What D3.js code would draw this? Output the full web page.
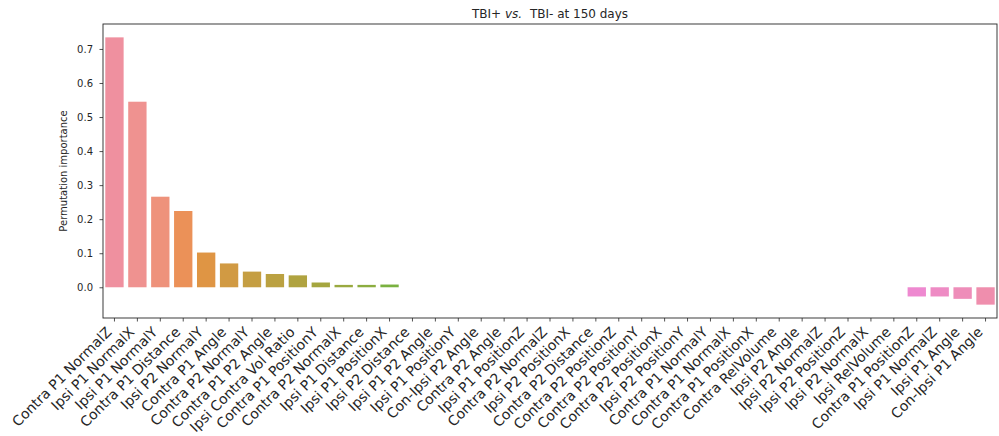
<!DOCTYPE html>
<html>
<head>
<meta charset="utf-8">
<style>
  body { margin: 0; background: #fff; }
  text { font-family: "DejaVu Sans", sans-serif; fill: #262626; }
</style>
</head>
<body>
<svg width="999" height="436"></svg>
<script src="https://d3js.org/d3.v7.min.js"></script>
<script>

var features = [
  "Contra P1 NormalZ", "Ipsi P1 NormalX", "Ipsi P1 NormalY", "Contra P1 Distance",
  "Ipsi P2 NormalY", "Contra P1 Angle", "Contra P2 NormalY", "Contra P1 P2 Angle",
  "Ipsi Contra Vol Ratio", "Contra P1 PositionY", "Contra P2 NormalX", "Ipsi P1 Distance",
  "Ipsi P1 PositionX", "Ipsi P2 Distance", "Ipsi P1 P2 Angle", "Ipsi P1 PositionY",
  "Con-Ipsi P2 Angle", "Contra P2 Angle", "Ipsi P1 PositionZ", "Contra P2 NormalZ",
  "Ipsi P2 PositionX", "Contra P2 Distance", "Contra P2 PositionZ", "Contra P2 PositionY",
  "Contra P2 PositionX", "Ipsi P2 PositionY", "Contra P1 NormalY", "Contra P1 NormalX",
  "Contra P1 PositionX", "Contra RelVolume", "Ipsi P2 Angle", "Ipsi P2 NormalZ",
  "Ipsi P2 PositionZ", "Ipsi P2 NormalX", "Ipsi RelVolume", "Contra P1 PositionZ",
  "Ipsi P1 NormalZ", "Ipsi P1 Angle", "Con-Ipsi P1 Angle"
];

var importance = [
  0.734, 0.545, 0.266, 0.224, 0.102, 0.070, 0.046, 0.039, 0.035, 0.014,
  0.007, 0.007, 0.008, 0, 0, 0, 0, 0, 0, 0,
  0, 0, 0, 0, 0, 0, 0, 0, 0, 0,
  0, 0, 0, 0, 0, -0.027, -0.027, -0.034, -0.051
];

var yTicks = [0.0, 0.1, 0.2, 0.3, 0.4, 0.5, 0.6, 0.7];

// seaborn-style husl palette (old husl maths)
var M = [[3.2406, -1.5372, -0.4986], [-0.9689, 1.8758, 0.0415], [0.0557, -0.2040, 1.0570]];
var refU = 0.19784, refV = 0.46834, kappa = 903.3, epsilon = 0.008856;

function maxChroma(L, H) {
  var hr = H * Math.PI / 180, sinH = Math.sin(hr), cosH = Math.cos(hr);
  var sub1 = Math.pow(L + 16, 3) / 1560896;
  var sub2 = sub1 > epsilon ? sub1 : L / kappa;
  var best = Infinity;
  M.forEach(function(r) {
    var top = (0.99915 * r[0] + 1.05122 * r[1] + 1.14460 * r[2]) * sub2;
    var rb = 0.86330 * r[2] - 0.17266 * r[1];
    var lb = 0.12949 * r[2] - 0.38848 * r[0];
    var bottom = (rb * sinH + lb * cosH) * sub2;
    [0, 1].forEach(function(t) {
      var C = L * (top - 1.05122 * t) / (bottom + 0.17266 * sinH * t);
      if (C > 0 && C < best) best = C;
    });
  });
  return best;
}

function huslToRgb(H, S, L) {
  var C = maxChroma(L, H) / 100 * S;
  var hr = H * Math.PI / 180, U = Math.cos(hr) * C, V = Math.sin(hr) * C;
  var t = (L + 16) / 116;
  var Y = Math.pow(t, 3) > epsilon ? Math.pow(t, 3) : (116 * t - 16) / kappa;
  var vu = U / (13 * L) + refU, vv = V / (13 * L) + refV;
  var X = 0 - (9 * Y * vu) / ((vu - 4) * vv - vu * vv);
  var Z = (9 * Y - 15 * vv * Y - vv * X) / (3 * vv);
  return M.map(function(r) {
    var c = r[0] * X + r[1] * Y + r[2] * Z;
    c = c <= 0.0031308 ? 12.92 * c : 1.055 * Math.pow(c, 1 / 2.4) - 0.055;
    return Math.max(0, Math.min(1, c));
  });
}

var n = features.length;
var colors = d3.range(n).map(function(i) {
  var h = ((i / n + 0.01) % 1) * 359;
  var rgb = huslToRgb(h, 0.9 * 99, 0.7 * 99);
  var hsl = d3.hsl(d3.rgb(rgb[0] * 255, rgb[1] * 255, rgb[2] * 255));
  hsl.s *= 0.85;
  return hsl.formatHex();
});

var svg = d3.select("svg"),
    margin = {top: 24, right: 2, bottom: 118, left: 103},
    width = +svg.attr("width") - margin.left - margin.right,
    height = +svg.attr("height") - margin.top - margin.bottom,
    g = svg.append("g").attr("transform", "translate(" + margin.left + "," + margin.top + ")");

var x = d3.scaleBand()
    .domain(features)
    .range([0, width])
    .paddingInner(0.2)
    .paddingOuter(0.1);

var ext = d3.extent(importance), pad = (ext[1] - ext[0]) * 0.05;
var y = d3.scaleLinear()
    .domain([ext[0] - pad, ext[1] + pad])
    .range([height, 0]);

g.selectAll(".bar")
  .data(importance)
  .enter().append("rect")
    .attr("class", "bar")
    .attr("x", function(d, i) { return x(features[i]); })
    .attr("width", x.bandwidth())
    .attr("y", function(d) { return y(Math.max(0, d)); })
    .attr("height", function(d) { return Math.abs(y(d) - y(0)); })
    .attr("fill", function(d, i) { return colors[i]; });

// x axis with rotated labels
var xAxis = g.append("g")
    .attr("transform", "translate(0," + height + ")")
    .call(d3.axisBottom(x).tickSize(3.5).tickSizeOuter(0));
xAxis.select(".domain").remove();
xAxis.selectAll("line").attr("stroke", "#262626").attr("stroke-width", 0.8);
xAxis.selectAll("text")
    .attr("x", 0).attr("y", 0).attr("dy", null)
    .attr("transform", "translate(-2,15) rotate(-45)")
    .style("text-anchor", "end")
    .style("font-size", "14px")
    .attr("fill", "#262626");

// y axis
var yAxis = g.append("g")
    .call(d3.axisLeft(y).tickValues(yTicks).tickFormat(d3.format(".1f")).tickSize(3.5).tickPadding(6.5));
yAxis.select(".domain").remove();
yAxis.selectAll("line").attr("stroke", "#262626").attr("stroke-width", 0.8);
yAxis.selectAll("text").style("font-size", "10px").attr("fill", "#262626");

// frame
g.append("rect")
    .attr("width", width)
    .attr("height", height)
    .attr("fill", "none")
    .attr("stroke", "#262626")
    .attr("stroke-width", 0.9);

g.append("text")
    .attr("transform", "translate(-36," + (height / 2) + ") rotate(-90)")
    .attr("text-anchor", "middle")
    .style("font-size", "10px")
    .text("Permutation importance");

var title = g.append("text")
    .attr("x", width / 2)
    .attr("y", -6)
    .attr("text-anchor", "middle")
    .style("font-size", "12px");
title.append("tspan").text("TBI+ ");
title.append("tspan").style("font-style", "italic").text("vs.");
title.append("tspan").attr("dx", 4).text(" TBI- at 150 days");

</script>
</body>
</html>
